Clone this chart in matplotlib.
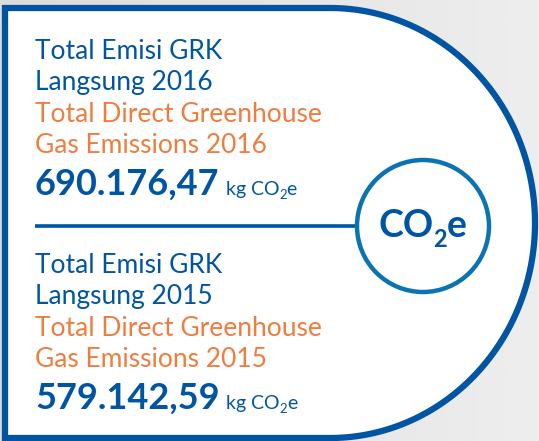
import matplotlib
matplotlib.use("Agg")
import matplotlib.pyplot as plt
import matplotlib.patches as mpatches
import numpy as np

plt.rcParams['font.family'] = ['Lato', 'DejaVu Sans']

# data
years = [2016, 2015]
labels_id = [["Total Emisi GRK", "Langsung %d" % y] for y in years]
labels_en = [["Total Direct Greenhouse", "Gas Emissions %d" % y] for y in years]
values = ["690.176,47", "579.142,59"]

blue = '#0054a4'
ring = '#0a74b3'
orange = '#ef7d3f'

fig = plt.figure(figsize=(5.39, 4.41), dpi=100)
fig.patch.set_facecolor('#e3e3e3')
ax = fig.add_axes([0, 0, 1, 1])
ax.set_xlim(0, 539)
ax.set_ylim(441, 0)
ax.axis('off')

# light grey background, a bit brighter to the right
grad = np.linspace(0.86, 0.93, 256)[None, :]
ax.imshow(np.repeat(grad, 2, axis=0), cmap='gray', vmin=0, vmax=1,
          extent=[0, 539, 441, 0], aspect='auto', zorder=0)

# the card: straight left side, half ellipse on the right
cx, cy, rx, ry = 330, 223, 205, 215
t = np.linspace(-np.pi / 2, np.pi / 2, 200)
arc = np.column_stack([cx + rx * np.cos(t), cy + ry * np.sin(t)])
pts = np.vstack([[[5, 438], [5, 8]], arc, [[5, 438]]])
card = mpatches.Polygon(pts, closed=True, facecolor='white',
                        edgecolor=blue, lw=4.5, joinstyle='miter', zorder=1)
ax.add_patch(card)

# divider and ring
ax.plot([35, 358], [226, 226], color=blue, lw=2.6, solid_capstyle='butt', zorder=2)
ax.add_patch(mpatches.Circle((423, 226), 66, facecolor='white',
                             edgecolor=ring, lw=3.2, zorder=3))

renderer = fig.canvas.get_renderer()


def runs(x, y, parts, **kw):
    # parts: (text, fontsize, drop in px)
    for s, size, dy in parts:
        tx = ax.text(x, y + dy, s, fontsize=size, va='baseline', zorder=4, **kw)
        bb = tx.get_window_extent(renderer=renderer)
        x += bb.width
    return x


runs(378, 237, [("CO", 27, 0), ("2", 17, 10), ("e", 27, 0)],
     color=blue, fontweight='bold')

base = [59, 273]
for i in range(2):
    y0 = base[i]
    for k, line in enumerate(labels_id[i]):
        ax.text(35, y0 + 31 * k, line, color=blue, fontsize=19,
                va='baseline', zorder=4)
    for k, line in enumerate(labels_en[i]):
        ax.text(35, y0 + 63 + 31 * k, line, color=orange, fontsize=19,
                va='baseline', zorder=4)
    xe = runs(35, y0 + 136, [(values[i], 26, 0)], color=blue, fontweight='bold')
    runs(xe + 6, y0 + 136, [("kg CO", 14, 0), ("2", 9.5, 4), ("e", 14, 0)],
         color=blue)

fig.savefig('out.png', dpi=100, facecolor=fig.get_facecolor())
